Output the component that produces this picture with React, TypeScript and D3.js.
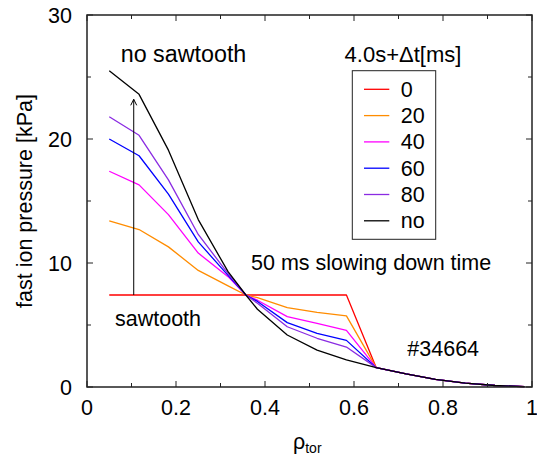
import React from "react";
import * as d3 from "d3";

const rho = [0.05, 0.117, 0.183, 0.25, 0.317, 0.357, 0.383, 0.45, 0.517, 0.583, 0.65, 0.717, 0.783, 0.85, 0.917, 0.983];
const tail = [1.56, 1.05, 0.62, 0.32, 0.12, 0.03];
const p0 = [7.42, 7.42, 7.42, 7.42, 7.42, 7.42, 7.42, 7.42, 7.42, 7.42, ...tail];
const p20 = [13.4, 12.7, 11.3, 9.4, 8.15, 7.42, 7.2, 6.4, 6.02, 5.73, ...tail];
const p40 = [17.4, 16.3, 13.9, 10.8, 8.9, 7.42, 7.0, 5.67, 5.13, 4.56, ...tail];
const p60 = [20.0, 18.65, 15.55, 11.7, 9.0, 7.42, 6.9, 5.19, 4.33, 3.76, ...tail];
const p80 = [21.8, 20.3, 16.7, 12.3, 9.15, 7.42, 6.75, 4.86, 3.93, 3.22, ...tail];
const pNo = [25.5, 23.6, 19.1, 13.5, 9.3, 7.42, 6.27, 4.19, 2.98, 2.18, ...tail];

const seriesLabels = ["0", "20", "40", "60", "80", "no"];
const seriesColors = ["#ff0000", "#ff8c00", "#ff00ff", "#0000ff", "#8a2be2", "#000000"];
const seriesValues = [p0, p20, p40, p60, p80, pNo];

const xTicks = [0, 0.2, 0.4, 0.6, 0.8, 1];
const xMinor = [0.1, 0.3, 0.5, 0.7, 0.9];
const yTicks = [0, 10, 20, 30];
const yMinor = [5, 15, 25];

const arrowRho = 0.105;
const arrowFrom = 7.42;
const arrowTo = 23.2;

const W = 537, H = 456;
const L = 87, R = 532, T = 15, B = 387;
const FONT = "'Liberation Sans', Arial, Helvetica, sans-serif";
const FS = 21.5;

export default function App() {
  const x = d3.scaleLinear().domain([0, 1]).range([L, R]);
  const y = d3.scaleLinear().domain([0, 30]).range([B, T]);
  const line = d3.line<number>().x((_, i) => x(rho[i])).y((d) => y(d));
  const frame = "#222";
  const ax = x(arrowRho);
  const ay = y(arrowTo);
  const legX = 352.3, legY = 70.7, legW = 83.4, legH = 168.6;
  return (
    <svg width={W} height={H} style={{ position: "absolute", left: 0, top: 0, background: "#fff" }} fontFamily={FONT}>
      <rect x={0} y={0} width={W} height={H} fill="#fff" />
      {seriesValues.map((vals, k) => (
        <path key={k} d={line(vals) || ""} fill="none" stroke={seriesColors[k]} strokeWidth={1.3} strokeLinejoin="round" />
      ))}
      {/* arrow */}
      <line x1={ax} x2={ax} y1={y(arrowFrom)} y2={ay} stroke="#000" strokeWidth={1} />
      <path d={`M${ax - 3},${ay + 6} L${ax},${ay} L${ax + 3},${ay + 6}`} fill="none" stroke="#000" strokeWidth={1} />
      {/* frame */}
      <rect x={L} y={T} width={R - L} height={B - T} fill="none" stroke={frame} strokeWidth={1.5} />
      {xTicks.map((t) => (
        <g key={"x" + t}>
          <line x1={x(t)} x2={x(t)} y1={B} y2={B - 6} stroke={frame} strokeWidth={1} />
          <line x1={x(t)} x2={x(t)} y1={T} y2={T + 6} stroke={frame} strokeWidth={1} />
          <text x={x(t)} y={415} fontSize={FS} textAnchor="middle">{String(t)}</text>
        </g>
      ))}
      {xMinor.map((t) => (
        <g key={"xm" + t}>
          <line x1={x(t)} x2={x(t)} y1={B} y2={B - 4} stroke={frame} strokeWidth={1} />
          <line x1={x(t)} x2={x(t)} y1={T} y2={T + 4} stroke={frame} strokeWidth={1} />
        </g>
      ))}
      {yTicks.map((t) => (
        <g key={"y" + t}>
          <line x1={L} x2={L + 6} y1={y(t)} y2={y(t)} stroke={frame} strokeWidth={1} />
          <line x1={R} x2={R - 6} y1={y(t)} y2={y(t)} stroke={frame} strokeWidth={1} />
          <text x={72} y={y(t) + 7.5} fontSize={FS} textAnchor="end">{String(t)}</text>
        </g>
      ))}
      {yMinor.map((t) => (
        <g key={"ym" + t}>
          <line x1={L} x2={L + 4} y1={y(t)} y2={y(t)} stroke={frame} strokeWidth={1} />
          <line x1={R} x2={R - 4} y1={y(t)} y2={y(t)} stroke={frame} strokeWidth={1} />
        </g>
      ))}
      {/* axis labels */}
      <text transform={`translate(32,${(T + B) / 2}) rotate(-90)`} fontSize={FS} textAnchor="middle">fast ion pressure [kPa]</text>
      <text x={293} y={449} fontSize={FS}>ρ<tspan fontSize={14} dy={4}>tor</tspan></text>
      {/* annotations */}
      <text x={120.7} y={61.5} fontSize={23.3}>no sawtooth</text>
      <text x={403} y={61.5} fontSize={FS + 0.5} textAnchor="middle">4.0s+Δt[ms]</text>
      <text x={251} y={270} fontSize={FS}>50 ms slowing down time</text>
      <text x={115} y={326} fontSize={FS}>sawtooth</text>
      <text x={407.3} y={356} fontSize={FS}>#34664</text>
      {/* legend */}
      <rect x={legX} y={legY} width={legW} height={legH} fill="#fff" stroke={frame} strokeWidth={1} />
      {seriesLabels.map((lab, k) => {
        const ly = 89.3 + k * 26.3;
        return (
          <g key={"l" + k}>
            <line x1={364} x2={389.3} y1={ly} y2={ly} stroke={seriesColors[k]} strokeWidth={1.3} />
            <text x={400.7} y={ly + 7.5} fontSize={FS}>{lab}</text>
          </g>
        );
      })}
    </svg>
  );
}
